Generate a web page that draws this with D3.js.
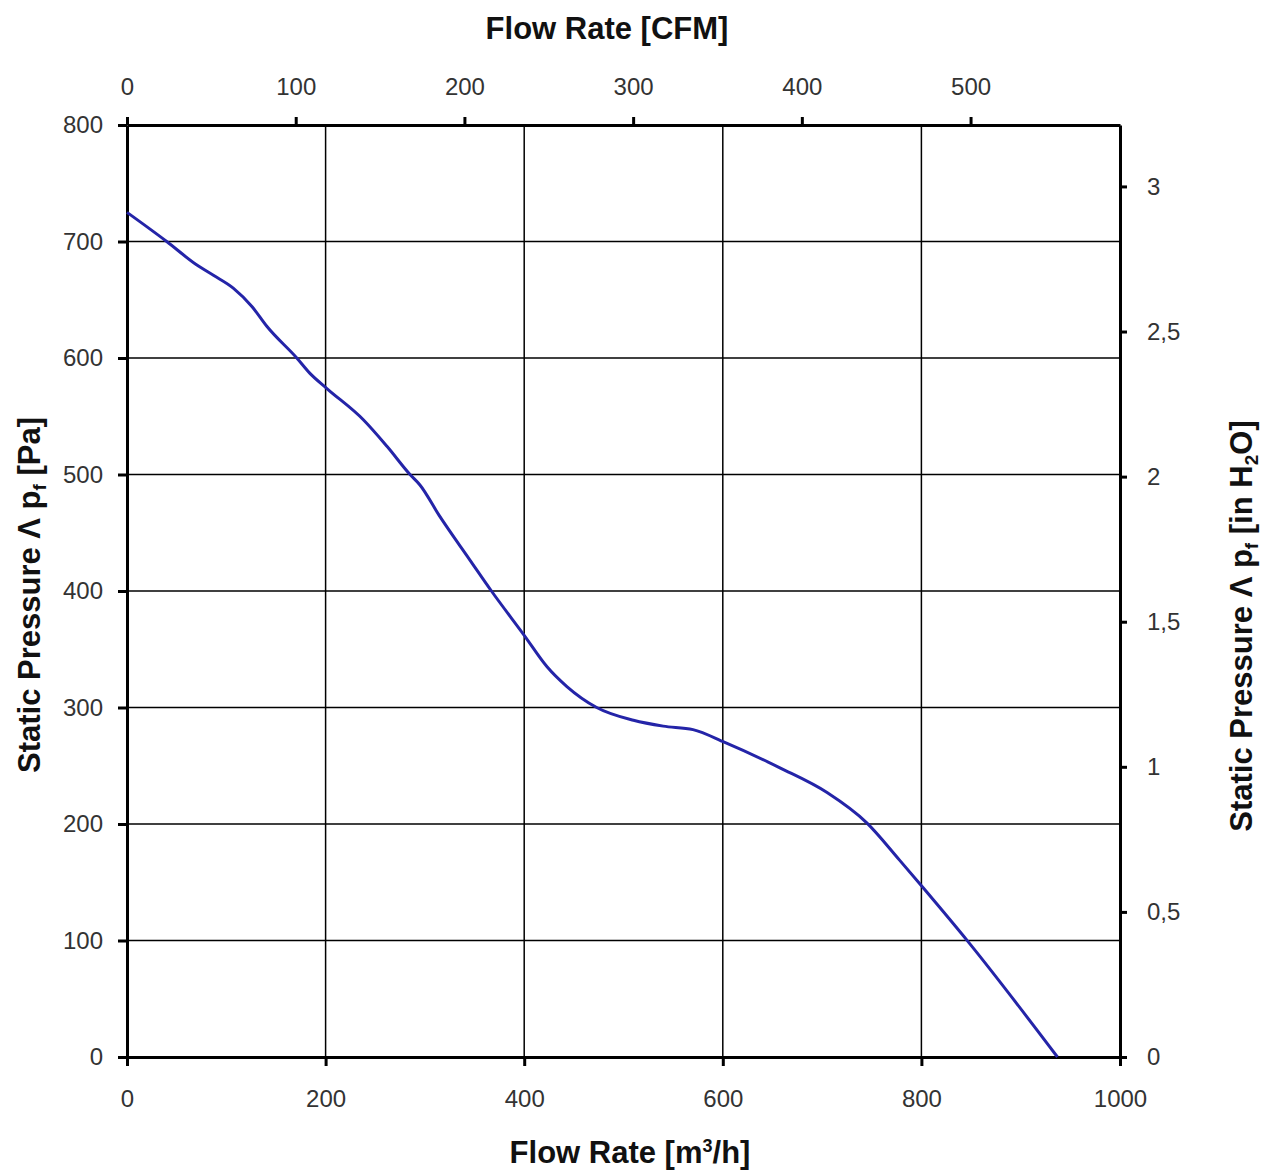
<!DOCTYPE html>
<html>
<head>
<meta charset="utf-8">
<script src="https://cdn.jsdelivr.net/npm/d3@7"></script>
<style>
  body { margin: 0; background: #fff; }
  text { font-family: "Liberation Sans", Arial, sans-serif; }
  .tick text { fill: #333; font-size: 24px; }
  .axis path, .axis line { stroke: #000; }
  .title { font-weight: bold; font-size: 31px; fill: #111; }
</style>
</head>
<body>
<div id="chart"></div>
<script>
// flow rate [m3/h]
const flow = [0, 40, 70, 87, 107, 126, 141, 171, 184, 201, 238, 262, 285, 295, 315, 345, 367, 400,
  423, 443, 473, 510, 540, 570, 602, 658, 705, 745, 778, 802, 847, 937];
// static pressure [Pa]
const pressure = [725, 700, 680, 671, 660, 644, 627, 600, 587, 574, 547, 524, 500, 491, 464, 427, 400, 362,
  335, 318, 300, 289, 284, 281, 270, 248, 227, 201, 169, 145, 99, 0];

const xTicks = [0, 200, 400, 600, 800, 1000];
const yTicks = [0, 100, 200, 300, 400, 500, 600, 700, 800];
const cfmTicks = [0, 100, 200, 300, 400, 500];
const inH2OTicks = [0, 0.5, 1, 1.5, 2, 2.5, 3];

const M3H_PER_CFM = 1.699;
const PA_PER_INH2O = 249.09;

const width = 1271;
const height = 1174;
const margin = { top: 125, right: 151, bottom: 117, left: 127 };
const w = width - margin.left - margin.right;
const h = height - margin.top - margin.bottom;

const svg = d3.select('#chart').append('svg')
  .attr('width', width)
  .attr('height', height);

const g = svg.append('g')
  .attr('transform', `translate(${margin.left}, ${margin.top})`);

const x = d3.scaleLinear().domain([0, 1000]).range([0, w]);
const y = d3.scaleLinear().domain([0, 800]).range([h, 0]);
const xCfm = d3.scaleLinear().domain([0, 1000 / M3H_PER_CFM]).range([0, w]);
const yIn = d3.scaleLinear().domain([0, 800 / PA_PER_INH2O]).range([h, 0]);

// grid
g.append('g').selectAll('line')
  .data(xTicks.slice(1, -1))
  .join('line')
    .attr('x1', x).attr('x2', x)
    .attr('y1', 0).attr('y2', h)
    .attr('stroke', '#000').attr('stroke-width', 1.5);

g.append('g').selectAll('line')
  .data(yTicks.slice(1, -1))
  .join('line')
    .attr('y1', y).attr('y2', y)
    .attr('x1', 0).attr('x2', w)
    .attr('stroke', '#000').attr('stroke-width', 1.5);

const fmtComma = d => String(d).replace('.', ',');
const fmtPlain = d => String(d);

const styleAxis = sel => {
  sel.select('.domain').attr('stroke-width', 3);
  sel.selectAll('.tick line').attr('stroke-width', 3);
};

g.append('g')
  .attr('class', 'axis')
  .attr('transform', `translate(0, ${h})`)
  .call(d3.axisBottom(x).tickValues(xTicks).tickSize(9).tickSizeOuter(0).tickPadding(24).tickFormat(fmtPlain))
  .call(styleAxis);

g.append('g')
  .attr('class', 'axis')
  .call(d3.axisTop(xCfm).tickValues(cfmTicks).tickSize(8).tickSizeOuter(0).tickPadding(22).tickFormat(fmtPlain))
  .call(styleAxis);

g.append('g')
  .attr('class', 'axis')
  .call(d3.axisLeft(y).tickValues(yTicks).tickSize(9).tickSizeOuter(0).tickPadding(15).tickFormat(fmtPlain))
  .call(styleAxis);

g.append('g')
  .attr('class', 'axis')
  .attr('transform', `translate(${w}, 0)`)
  .call(d3.axisRight(yIn).tickValues(inH2OTicks).tickSize(7).tickSizeOuter(0).tickPadding(20).tickFormat(fmtComma))
  .call(styleAxis);

// curve
const line = d3.line()
  .x(d => x(d[0]))
  .y(d => y(d[1]))
  .curve(d3.curveMonotoneX);

g.append('path')
  .datum(d3.zip(flow, pressure))
  .attr('d', line)
  .attr('fill', 'none')
  .attr('stroke', '#2424a8')
  .attr('stroke-width', 3);

// titles
svg.append('text')
  .attr('class', 'title')
  .attr('x', 607).attr('y', 39)
  .attr('text-anchor', 'middle')
  .text('Flow Rate [CFM]');

const bottom = svg.append('text')
  .attr('class', 'title')
  .attr('x', 630).attr('y', 1163)
  .attr('text-anchor', 'middle');
bottom.append('tspan').text('Flow Rate [m');
bottom.append('tspan').attr('font-size', 18).attr('dy', -11).text('3');
bottom.append('tspan').attr('dy', 11).text('/h]');

const yTitle = (cx, cy, unit, sub) => {
  const t = svg.append('text')
    .attr('class', 'title')
    .attr('text-anchor', 'middle')
    .attr('transform', `translate(${cx}, ${cy}) rotate(-90)`);
  t.append('tspan').text('Static Pressure Λ p');
  t.append('tspan').attr('font-size', 19).attr('dy', 6).text('f');
  t.append('tspan').attr('dy', -6).text(' [' + unit);
  if (sub) {
    t.append('tspan').attr('font-size', 19).attr('dy', 6).text(sub[0]);
    t.append('tspan').attr('dy', -6).text(sub[1]);
  }
  t.append('tspan').text(']');
};

yTitle(40, 595, 'Pa');
yTitle(1252, 626, 'in H', ['2', 'O']);
</script>
</body>
</html>
